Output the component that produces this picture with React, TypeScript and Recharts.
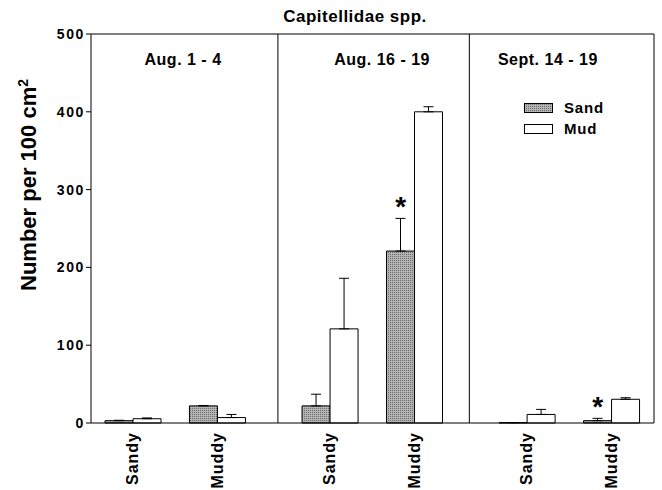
import {
  Bar,
  BarChart,
  ErrorBar,
  ReferenceDot,
  ReferenceLine,
  XAxis,
  YAxis,
} from "recharts";

const periods = ["Aug. 1 - 4", "Aug. 16 - 19", "Sept. 14 - 19"];
const sites = ["Sandy", "Muddy"];
const sandMeans = [3, 22, 22, 221, 0.5, 3];
const sandErrors = [0.5, 0.5, 15, 42, 0, 3];
const mudMeans = [5.5, 7, 121, 400, 11, 30.5];
const mudErrors = [1, 4, 65, 6.5, 6.5, 2];
const sandSignificant = [false, false, false, true, false, true];
const yTicks = [0, 100, 200, 300, 400, 500];

const FONT = '"Liberation Sans", Arial, Helvetica, sans-serif';
// x axis runs in "bar width" units: 7 per sampling period
const SLOT = 7;
const dividerX = [6.64, 13.44];
const periodLabelX = [3.27, 10.34, 16.23];

const data = sandMeans.map((sand, i) => {
  const period = Math.floor(i / 2);
  const site = i % 2;
  return {
    pos: period * SLOT + site * 3 + 1.5,
    label: sites[site],
    sand,
    sandErr: [0, sandErrors[i]],
    mud: mudMeans[i],
    mudErr: [0, mudErrors[i]],
    sig: sandSignificant[i],
  };
});

function SiteTick(props: any) {
  const { x, y, payload } = props;
  const row = data.find((d) => d.pos === payload.value);
  const tx = x + 5;
  return (
    <text
      x={tx}
      y={y}
      transform={`rotate(-90 ${tx} ${y})`}
      textAnchor="end"
      fontFamily={FONT}
      fontSize={16}
      fontWeight="bold"
      letterSpacing={1}
      fill="#000"
    >
      {row?.label}
    </text>
  );
}

function CountTick(props: any) {
  const { x, y, payload } = props;
  return (
    <text
      x={x + 1}
      y={y + 5}
      textAnchor="end"
      fontFamily={FONT}
      fontSize={14}
      fontWeight="bold"
      letterSpacing={1.6}
      fill="#000"
    >
      {payload.value}
    </text>
  );
}

const yTitle = () => (
  <text
    transform="translate(36 185) rotate(-90)"
    textAnchor="middle"
    fontFamily={FONT}
    fontSize={22}
    fontWeight="bold"
    fill="#000"
  >
    Number per 100 cm
    <tspan dy={-8} fontSize={14}>
      2
    </tspan>
  </text>
);

function DotPattern({ id }: { id: string }) {
  return (
    <pattern id={id} width="2" height="2" patternUnits="userSpaceOnUse">
      <rect width="2" height="2" fill="#b4b4b4" />
      <rect width="1" height="1" fill="#6a6a6a" />
    </pattern>
  );
}

export default function App() {
  return (
    <div style={{ position: "absolute", left: 0, top: 0, width: 662, height: 490, background: "#fff" }}>
      <BarChart
        width={662}
        height={490}
        data={data}
        margin={{ top: 34, right: 8, bottom: 0, left: 0 }}
        barGap={0}
      >
        <defs>
          <DotPattern id="sandDots" />
        </defs>
        <XAxis
          dataKey="pos"
          type="number"
          domain={[0, 20]}
          ticks={data.map((d) => d.pos)}
          interval={0}
          height={67}
          tickLine={false}
          tickSize={9}
          tickMargin={0}
          axisLine={{ stroke: "#000" }}
          tick={<SiteTick />}
        />
        <YAxis
          domain={[0, 500]}
          ticks={yTicks}
          width={91}
          tickSize={5}
          tickMargin={2}
          axisLine={{ stroke: "#000" }}
          tickLine={{ stroke: "#000" }}
          tick={<CountTick />}
          label={{ content: yTitle }}
        />
        <ReferenceLine y={500} stroke="#000" />
        <ReferenceLine x={20} stroke="#000" />
        {dividerX.map((x) => (
          <ReferenceLine key={x} x={x} stroke="#000" />
        ))}
        {periods.map((name, i) => (
          <ReferenceLine
            key={name}
            x={periodLabelX[i]}
            stroke="none"
            label={{
              content: (p: any) => (
                <text
                  x={p.viewBox?.x ?? 0}
                  y={(p.viewBox?.y ?? 34) + 31}
                  textAnchor="middle"
                  fontFamily={FONT}
                  fontSize={16}
                  fontWeight="bold"
                  letterSpacing={0.5}
                  fill="#000"
                >
                  {name}
                </text>
              ),
            }}
          />
        ))}
        <Bar
          dataKey="sand"
          name="Sand"
          fill="url(#sandDots)"
          stroke="#000"
          strokeWidth={1}
          barSize={28}
          isAnimationActive={false}
        >
          <ErrorBar dataKey="sandErr" width={5} stroke="#000" strokeWidth={1} direction="y" />
        </Bar>
        <Bar
          dataKey="mud"
          name="Mud"
          fill="#fff"
          stroke="#000"
          strokeWidth={1}
          barSize={28}
          isAnimationActive={false}
        >
          <ErrorBar dataKey="mudErr" width={5} stroke="#000" strokeWidth={1} direction="y" />
        </Bar>
        {data
          .filter((d) => d.sig)
          .map((d) => (
            <ReferenceDot
              key={d.pos}
              x={d.pos - 0.5}
              y={d.sand + d.sandErr[1]}
              r={0}
              fill="none"
              stroke="none"
              label={{
                content: (p: any) => {
                  const vb = p.viewBox ?? { x: 0, y: 0, width: 0, height: 0 };
                  return (
                    <text
                      x={vb.x + (vb.width ?? 0) / 2}
                      y={vb.y + (vb.height ?? 0) / 2 - 2.4}
                      textAnchor="middle"
                      fontFamily={FONT}
                      fontSize={28}
                      fontWeight="bold"
                      fill="#000"
                    >
                      *
                    </text>
                  );
                },
              }}
            />
          ))}
      </BarChart>
      <svg
        width={662}
        height={490}
        style={{ position: "absolute", left: 0, top: 0, pointerEvents: "none" }}
      >
        <defs>
          <DotPattern id="sandDotsKey" />
        </defs>
        <text
          x={355}
          y={22}
          textAnchor="middle"
          fontFamily={FONT}
          fontSize={17}
          fontWeight="bold"
          letterSpacing={0.5}
          fill="#000"
        >
          Capitellidae spp.
        </text>
        <rect x={524.5} y={103.5} width={28} height={9} fill="url(#sandDotsKey)" stroke="#000" />
        <text x={564} y={113} fontFamily={FONT} fontSize={15} fontWeight="bold" letterSpacing={0.8} fill="#000">
          Sand
        </text>
        <rect x={524.5} y={124.5} width={28} height={9} fill="#fff" stroke="#000" />
        <text x={564} y={134} fontFamily={FONT} fontSize={15} fontWeight="bold" letterSpacing={0.8} fill="#000">
          Mud
        </text>
      </svg>
    </div>
  );
}
